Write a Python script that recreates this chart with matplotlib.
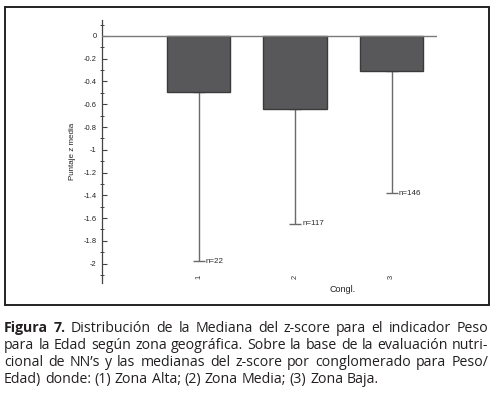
import numpy as np
import matplotlib.pyplot as plt
from matplotlib.patches import Rectangle
from matplotlib.ticker import MultipleLocator, FormatStrFormatter

# Datos
conglomerados = ['1', '2', '3']
medianas = [-0.49, -0.64, -0.31]
limite_inferior = [-1.98, -1.65, -1.38]
n_casos = [22, 117, 146]

lineas_pie = [
    [('Figura', True), ('7.', True), ('Distribución', False), ('de', False), ('la', False),
     ('Mediana', False), ('del', False), ('z-score', False), ('para', False), ('el', False),
     ('indicador', False), ('Peso', False)],
    [(w, False) for w in 'para la Edad según zona geográfica. Sobre la base de la evaluación nutri-'.split()],
    [(w, False) for w in 'cional de NN’s y las medianas del z-score por conglomerado para Peso/'.split()],
    [(w, False) for w in 'Edad) donde: (1) Zona Alta; (2) Zona Media; (3) Zona Baja.'.split()],
]

W, H = 493, 395
fig = plt.figure(figsize=(W / 100, H / 100), dpi=100)
plt.rcParams['font.family'] = ['Liberation Sans', 'DejaVu Sans']

# Marco alrededor del gráfico
fig.patches.append(Rectangle((5 / W, 1 - 305 / H), 484 / W, 298 / H, transform=fig.transFigure,
                             fill=False, lw=1.4, ec='#222222'))

ax = fig.add_axes([102 / W, 1 - 283 / H, 335 / W, 263 / H])
x = np.arange(1, len(conglomerados) + 1)
err_inf = np.array(medianas) - np.array(limite_inferior)

ax.errorbar(x, medianas, yerr=[err_inf, np.zeros(len(x))], fmt='none', ecolor='#6a6a6a',
            elinewidth=1.0, capsize=4, capthick=1.0, zorder=2)
ax.bar(x, medianas, width=0.66, color='#58585a', edgecolor='#3a3a3a', linewidth=1.0, zorder=3)
ax.axhline(0, color='#7a7a7a', linewidth=1.0, zorder=4)

for xi, li, n in zip(x, limite_inferior, n_casos):
    ax.text(xi + 0.075, li, f'n={n}', fontsize=5.8, color='#2a2a2a', va='center', ha='left')

ax.set_xlim(0, 3.47)
ax.set_ylim(-2.17, 0.14)
ax.yaxis.set_major_locator(MultipleLocator(0.2))
ax.yaxis.set_minor_locator(MultipleLocator(0.1))
ax.yaxis.set_major_formatter(FormatStrFormatter('%g'))
ax.tick_params(axis='y', which='major', direction='in', length=3.5, width=0.8,
               labelsize=5.4, labelcolor='#222222', color='#444444', pad=4)
ax.tick_params(axis='y', which='minor', direction='inout', length=2.5, width=0.7, color='#444444')
ax.set_xticks(x)
ax.set_xticklabels(conglomerados, rotation=90, fontsize=5.4, color='#333333')
ax.tick_params(axis='x', length=0, pad=-6)

for s in ['top', 'right', 'bottom']:
    ax.spines[s].set_visible(False)
ax.spines['left'].set_color('#444444')
ax.spines['left'].set_linewidth(0.9)
ax.set_ylabel('Puntaje z media', fontsize=5.8, color='#222222', labelpad=5)
ax.patch.set_visible(False)

fig.text(343 / W, 1 - 289 / H, 'Congl.', fontsize=6.5, color='#222222', ha='center', va='center')

# Pie de figura justificado
fig.canvas.draw()
renderer = fig.canvas.get_renderer()
tam = 10.2
color_pie = '#231f20'
izq, der = 4, 488
bases = [332, 349, 366, 383]
for k, linea in enumerate(lineas_pie):
    textos = [fig.text(0, 0, w, fontsize=tam, family=['Open Sans', 'DejaVu Sans'], color=color_pie,
                       fontweight='bold' if b else 'normal', va='baseline', ha='left')
              for w, b in linea]
    anchos = [t.get_window_extent(renderer).width for t in textos]
    espacio_normal = tam * 1.389 * 0.26
    if k < len(lineas_pie) - 1:
        hueco = (der - izq - sum(anchos)) / (len(anchos) - 1)
    else:
        hueco = espacio_normal
    pos = izq
    for t, a in zip(textos, anchos):
        t.set_position((pos / W, 1 - bases[k] / H))
        pos += a + hueco

fig.savefig('out.png', dpi=100)
